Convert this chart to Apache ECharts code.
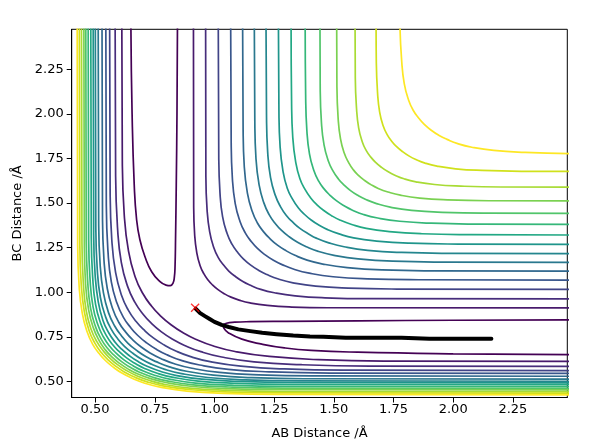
<!DOCTYPE html>
<html><head><meta charset="utf-8">
<script src="https://cdn.jsdelivr.net/npm/echarts@6/dist/echarts.min.js"></script>
<style>html,body{margin:0;padding:0;background:#fff}#c{width:605px;height:447px}</style>
</head><body><div id="c"></div>
<script>
// tick labels
const xTicks = [0.5, 0.75, 1.0, 1.25, 1.5, 1.75, 2.0, 2.25];
const yTicks = [0.5, 0.75, 1.0, 1.25, 1.5, 1.75, 2.0, 2.25];
// contour level colours (viridis, lowest -> highest)
const levelColors = ['#440154','#481a6c','#472d7b','#414487','#39568c','#31688e','#2a788e','#24868e',
                     '#1f958b','#22a884','#35b779','#51c56a','#7ad151','#a8db34','#d0e11c','#fde725'];
// lowest level: closed valley loop (AB-valley branch); its mirror is the BC-valley branch
const valleyLoop = [[0.650,2.49],[0.655,2.0],[0.664,1.6],[0.674,1.405],[0.688,1.293],[0.709,1.199],
  [0.737,1.115],[0.772,1.059],[0.797,1.040],[0.815,1.037],[0.826,1.050],[0.832,1.085],[0.835,1.15],
  [0.837,1.3],[0.840,1.6],[0.843,2.0],[0.845,2.49]];
// levels 2..16, repulsive-wall side: half-contours from the top edge down to the AB = BC diagonal
const outerHalves = [
  [[0.612,2.49],[0.614,1.745],[0.622,1.436],[0.640,1.230],[0.668,1.086],[0.700,0.993],[0.737,0.921],[0.772,0.870],[0.818,0.818]],
  [[0.584,2.49],[0.586,1.651],[0.594,1.360],[0.610,1.166],[0.637,1.030],[0.667,0.943],[0.702,0.875],[0.735,0.827],[0.778,0.778]],
  [[0.561,2.49],[0.563,1.568],[0.570,1.293],[0.586,1.110],[0.611,0.982],[0.639,0.900],[0.672,0.836],[0.704,0.790],[0.744,0.744]],
  [[0.545,2.49],[0.547,1.486],[0.554,1.229],[0.568,1.058],[0.592,0.938],[0.618,0.861],[0.649,0.802],[0.678,0.759],[0.716,0.716]],
  [[0.529,2.49],[0.531,1.431],[0.537,1.185],[0.551,1.021],[0.574,0.906],[0.599,0.832],[0.629,0.775],[0.657,0.734],[0.693,0.693]],
  [[0.513,2.49],[0.515,1.399],[0.521,1.157],[0.535,0.996],[0.557,0.883],[0.582,0.811],[0.611,0.755],[0.638,0.714],[0.674,0.674]],
  [[0.501,2.49],[0.503,1.365],[0.509,1.129],[0.522,0.972],[0.544,0.862],[0.568,0.792],[0.596,0.737],[0.623,0.697],[0.658,0.658]],
  [[0.492,2.49],[0.494,1.328],[0.500,1.100],[0.513,0.948],[0.533,0.842],[0.557,0.773],[0.584,0.720],[0.610,0.682],[0.644,0.644]],
  [[0.482,2.49],[0.484,1.307],[0.490,1.082],[0.502,0.932],[0.523,0.827],[0.546,0.760],[0.573,0.707],[0.599,0.670],[0.632,0.632]],
  [[0.471,2.49],[0.473,1.296],[0.479,1.071],[0.491,0.921],[0.512,0.816],[0.535,0.749],[0.562,0.696],[0.588,0.659],[0.621,0.621]],
  [[0.461,2.49],[0.463,1.286],[0.469,1.061],[0.481,0.911],[0.502,0.806],[0.525,0.739],[0.552,0.686],[0.578,0.649],[0.611,0.611]],
  [[0.453,2.49],[0.455,1.273],[0.460,1.049],[0.473,0.900],[0.494,0.796],[0.517,0.729],[0.543,0.677],[0.569,0.639],[0.602,0.602]],
  [[0.443,2.49],[0.445,1.274],[0.451,1.047],[0.463,0.896],[0.484,0.790],[0.508,0.722],[0.535,0.670],[0.561,0.632],[0.594,0.594]],
  [[0.434,2.49],[0.436,1.270],[0.442,1.042],[0.455,0.890],[0.475,0.784],[0.499,0.715],[0.526,0.662],[0.552,0.624],[0.586,0.586]],
  [[0.425,2.49],[0.427,1.267],[0.433,1.037],[0.446,0.884],[0.467,0.777],[0.490,0.708],[0.518,0.655],[0.544,0.616],[0.578,0.578]]
];
// levels 2..16, dissociation side: half-contours from the top edge down to the diagonal
const innerHalves = [
  [[0.912,2.49],[0.913,1.479],[0.917,1.324],[0.926,1.221],[0.940,1.149],[0.956,1.103],[0.974,1.067],[0.992,1.041],[1.015,1.015]],
  [[0.963,2.49],[0.964,1.651],[0.969,1.463],[0.980,1.338],[0.997,1.251],[1.016,1.194],[1.039,1.151],[1.060,1.119],[1.088,1.088]],
  [[1.016,2.49],[1.018,1.764],[1.023,1.560],[1.034,1.424],[1.053,1.329],[1.074,1.268],[1.099,1.220],[1.122,1.186],[1.152,1.152]],
  [[1.068,2.49],[1.070,1.855],[1.075,1.640],[1.087,1.497],[1.107,1.397],[1.129,1.333],[1.155,1.283],[1.179,1.247],[1.211,1.211]],
  [[1.118,2.49],[1.120,1.921],[1.125,1.702],[1.138,1.556],[1.158,1.454],[1.180,1.388],[1.207,1.337],[1.232,1.301],[1.264,1.264]],
  [[1.167,2.49],[1.169,1.965],[1.174,1.747],[1.187,1.602],[1.207,1.501],[1.229,1.435],[1.255,1.385],[1.280,1.348],[1.312,1.312]],
  [[1.216,2.49],[1.218,1.997],[1.223,1.784],[1.235,1.642],[1.255,1.543],[1.277,1.479],[1.302,1.429],[1.327,1.394],[1.358,1.358]],
  [[1.268,2.49],[1.270,2.022],[1.275,1.816],[1.287,1.679],[1.305,1.583],[1.327,1.522],[1.351,1.474],[1.375,1.439],[1.405,1.405]],
  [[1.321,2.49],[1.323,2.075],[1.328,1.869],[1.340,1.732],[1.358,1.636],[1.380,1.575],[1.404,1.527],[1.428,1.492],[1.458,1.458]],
  [[1.380,2.49],[1.382,2.106],[1.387,1.908],[1.398,1.776],[1.416,1.684],[1.436,1.624],[1.460,1.578],[1.483,1.545],[1.512,1.512]],
  [[1.442,2.49],[1.443,2.146],[1.448,1.954],[1.459,1.826],[1.477,1.736],[1.497,1.679],[1.520,1.634],[1.542,1.602],[1.570,1.570]],
  [[1.512,2.49],[1.513,2.150],[1.518,1.976],[1.528,1.860],[1.544,1.779],[1.562,1.727],[1.582,1.686],[1.602,1.657],[1.628,1.628]],
  [[1.589,2.49],[1.590,2.200],[1.595,2.033],[1.604,1.922],[1.619,1.844],[1.636,1.794],[1.656,1.756],[1.675,1.728],[1.700,1.700]],
  [[1.677,2.49],[1.678,2.288],[1.683,2.121],[1.692,2.010],[1.707,1.932],[1.724,1.882],[1.744,1.844],[1.763,1.816],[1.788,1.788]],
  [[1.777,2.49],[1.784,2.301],[1.795,2.170],[1.813,2.078],[1.833,2.019],[1.857,1.974],[1.879,1.941],[1.908,1.908]]
];
// trajectory
const trajAB = [0.921,0.94,0.96,0.98,1.00,1.03,1.06,1.10,1.15,1.20,1.26,1.33,1.40,1.456,1.463,1.55,1.65,1.784,1.791,1.90,2.00,2.10,2.16];
const trajBC = [0.908,0.883,0.866,0.850,0.834,0.817,0.805,0.792,0.782,0.773,0.765,0.757,0.752,0.750,0.745,0.745,0.745,0.745,0.739,0.739,0.739,0.739,0.739];
const startPoint = [0.919, 0.913];

function mirrorHalf(h) {
  const back = h.slice(0, -1).reverse().map(p => [p[1], p[0]]);
  return h.concat(back);
}
function contour(data, color) {
  return { type: 'line', data: data, smooth: 0.5, symbol: 'none', silent: true,
           lineStyle: { color: color, width: 1.7 }, z: 2 };
}
const series = [];
series.push(contour(valleyLoop, levelColors[0]));
series.push(contour(valleyLoop.map(p => [p[1], p[0]]), levelColors[0]));
for (let k = 0; k < outerHalves.length; k++) {
  series.push(contour(mirrorHalf(outerHalves[k]), levelColors[k + 1]));
  series.push(contour(mirrorHalf(innerHalves[k]), levelColors[k + 1]));
}
series.push({ type: 'line', data: trajAB.map((x, i) => [x, trajBC[i]]), symbol: 'none', silent: true,
  lineStyle: { color: '#000', width: 4, cap: 'round', join: 'round' }, z: 5 });
series.push({ type: 'scatter', data: [startPoint], silent: true,
  symbol: 'path://M0,1L1,0L5,4L9,0L10,1L6,5L10,9L9,10L5,6L1,10L0,9L4,5Z', symbolSize: 9,
  itemStyle: { color: '#ff0000' }, z: 6 });

const font = 'DejaVu Sans';
const chart = echarts.init(document.getElementById('c'), null, { renderer: 'canvas' });
chart.setOption({
  animation: false,
  backgroundColor: '#fff',
  grid: { left: 71.7, right: 37.7, top: 29.3, bottom: 49.5, show: true, borderColor: '#000', borderWidth: 1 },
  xAxis: {
    type: 'value', min: 0.402, max: 2.478,
    name: 'AB Distance /Å', nameLocation: 'middle', nameGap: 30,
    nameTextStyle: { color: '#000', fontSize: 13, fontFamily: font },
    axisLine: { show: true, onZero: false, lineStyle: { color: '#000', width: 1 } },
    axisTick: { show: true, length: 5, customValues: xTicks, lineStyle: { color: '#000', width: 1 } },
    axisLabel: { customValues: xTicks, formatter: v => v.toFixed(2), color: '#000', fontSize: 13, fontFamily: font, margin: 6 },
    splitLine: { show: false }
  },
  yAxis: {
    type: 'value', min: 0.41, max: 2.474,
    name: 'BC Distance /Å', nameLocation: 'middle', nameGap: 46,
    nameTextStyle: { color: '#000', fontSize: 13, fontFamily: font },
    axisLine: { show: true, onZero: false, lineStyle: { color: '#000', width: 1 } },
    axisTick: { show: true, length: 5, customValues: yTicks, lineStyle: { color: '#000', width: 1 } },
    axisLabel: { customValues: yTicks, formatter: v => v.toFixed(2), color: '#000', fontSize: 13, fontFamily: font, margin: 8 },
    splitLine: { show: false }
  },
  series: series
});
</script></body></html>
